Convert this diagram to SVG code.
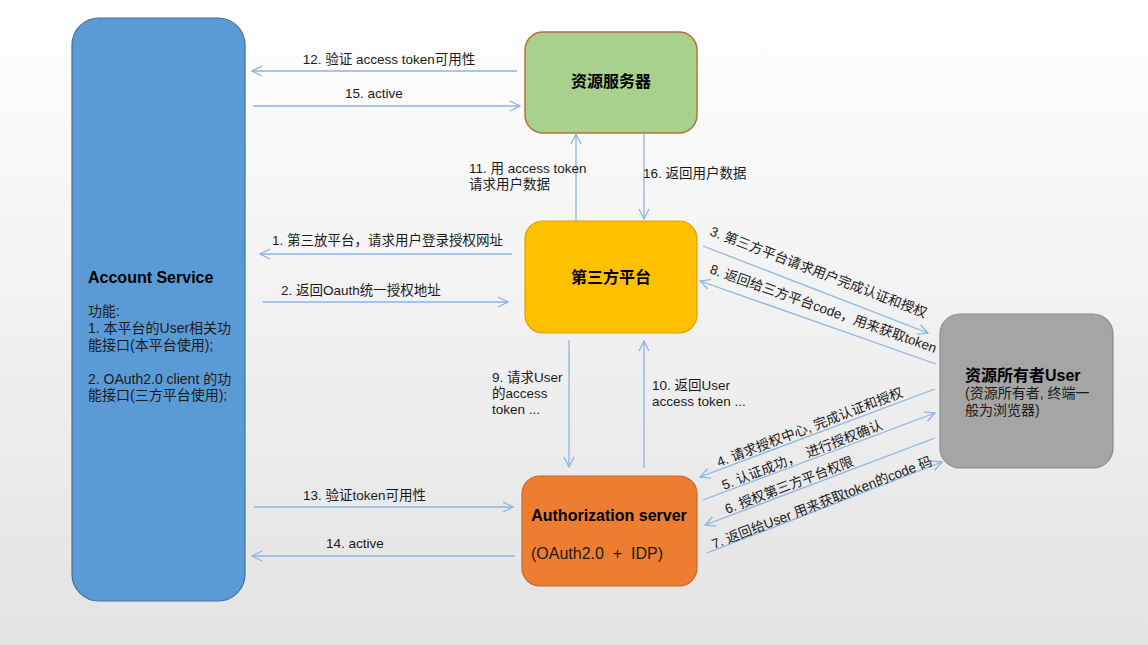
<svg xmlns="http://www.w3.org/2000/svg" width="1148" height="645" viewBox="0 0 1148 645">
<defs>
<linearGradient id="bg" x1="0" y1="0" x2="0" y2="1">
<stop offset="0" stop-color="#ffffff"/>
<stop offset="1" stop-color="#e3e3e3"/>
</linearGradient>
<marker id="arr" viewBox="0 0 12 12" refX="11" refY="6" markerWidth="12" markerHeight="12" markerUnits="userSpaceOnUse" orient="auto">
<path d="M1,1 L11,6 L1,11" fill="none" stroke="#8db4e2" stroke-width="1.3"/>
</marker>
<style>
text{font-family:"Liberation Sans","Noto Sans CJK SC",sans-serif;fill:#1a1a1a;white-space:pre;}
.lbl{font-size:13.5px;}
.title{font-size:16px;font-weight:bold;fill:#000;}
.body{font-size:14px;}
.conn line{stroke:#8db4e2;stroke-width:1.3;fill:none;marker-end:url(#arr);}
</style>
</defs>
<rect x="0" y="0" width="1148" height="645" fill="url(#bg)"/>

<g id="account-service">
<rect x="72" y="18" width="173" height="583" rx="27" fill="#5b9bd5" stroke="#41719c" stroke-width="1.2"/>
<text class="title" x="88" y="283">Account Service</text>
<text class="body" x="88" y="316">功能:</text>
<text class="body" x="88" y="333">1. 本平台的User相关功</text>
<text class="body" x="88" y="350">能接口(本平台使用);</text>
<text class="body" x="88" y="384">2. OAuth2.0 client 的功</text>
<text class="body" x="88" y="400">能接口(三方平台使用);</text>
</g>

<g id="resource-server">
<rect x="525" y="32" width="172" height="101" rx="18" fill="#a9d18e" stroke="#b8703a" stroke-width="1.5"/>
<text class="title" x="611" y="87" text-anchor="middle">资源服务器</text>
</g>

<g id="third-party">
<rect x="525" y="221" width="172" height="112" rx="18" fill="#ffc000" stroke="#d9a300" stroke-width="1.2"/>
<text class="title" x="611" y="283" text-anchor="middle">第三方平台</text>
</g>

<g id="auth-server">
<rect x="522" y="476" width="175" height="110" rx="18" fill="#ed7d31" stroke="#c8692a" stroke-width="1.2"/>
<text class="title" x="609" y="521" text-anchor="middle">Authorization server</text>
<text class="body" x="531" y="559" style="font-size:16px" xml:space="preserve">(OAuth2.0  +  IDP)</text>
</g>

<g id="resource-owner">
<rect x="940" y="314" width="173" height="154" rx="20" fill="#a5a5a5" stroke="#8c8c8c" stroke-width="1.2"/>
<text class="title" x="965" y="381">资源所有者User</text>
<text class="body" x="965" y="398">(资源所有者, 终端一</text>
<text class="body" x="965" y="415">般为浏览器)</text>
</g>

<g id="connectors" class="conn">
<line x1="517" y1="71" x2="252" y2="71"/>
<line x1="253" y1="106" x2="520" y2="106"/>
<line x1="576" y1="221" x2="576" y2="134"/>
<line x1="644" y1="134" x2="644" y2="219"/>
<line x1="512" y1="254" x2="260" y2="254"/>
<line x1="263" y1="302" x2="508" y2="302"/>
<line x1="703" y1="246" x2="928" y2="333"/>
<line x1="936" y1="364" x2="700" y2="281"/>
<line x1="569" y1="340" x2="569" y2="467"/>
<line x1="644" y1="468" x2="644" y2="341"/>
<line x1="935" y1="389" x2="700" y2="477"/>
<line x1="703" y1="500" x2="935" y2="413"/>
<line x1="935" y1="438" x2="705" y2="525"/>
<line x1="707" y1="553" x2="942" y2="462"/>
<line x1="254" y1="507" x2="513" y2="507"/>
<line x1="515" y1="556" x2="252" y2="556"/>
</g>

<g id="labels">
<text class="lbl" x="389" y="64" text-anchor="middle">12. 验证 access token可用性</text>
<text class="lbl" x="374" y="98" text-anchor="middle">15. active</text>
<text class="lbl" x="469" y="173">11. 用 access token</text>
<text class="lbl" x="469" y="189">请求用户数据</text>
<text class="lbl" x="643" y="178">16. 返回用户数据</text>
<text class="lbl" x="272" y="245">1. 第三放平台，请求用户登录授权网址</text>
<text class="lbl" x="281" y="295">2. 返回Oauth统一授权地址</text>
<text class="lbl" x="492" y="382">9. 请求User</text>
<text class="lbl" x="492" y="398">的access</text>
<text class="lbl" x="492" y="414">token ...</text>
<text class="lbl" x="652" y="390">10. 返回User</text>
<text class="lbl" x="652" y="406">access token ...</text>
<text class="lbl" x="303" y="500">13. 验证token可用性</text>
<text class="lbl" x="326" y="548">14. active</text>
<text class="lbl" transform="translate(709,235) rotate(21)">3. 第三方平台请求用户完成认证和授权</text>
<text class="lbl" transform="translate(709,273) rotate(19.5)">8. 返回给三方平台code，用来获取token</text>
<text class="lbl" transform="translate(719,467) rotate(-21)">4. 请求授权中心, 完成认证和授权</text>
<text class="lbl" transform="translate(724,490) rotate(-21)" xml:space="preserve">5. 认证成功，  进行授权确认</text>
<text class="lbl" transform="translate(727,514) rotate(-21)">6. 授权第三方平台权限</text>
<text class="lbl" transform="translate(714,549) rotate(-21)">7. 返回给User 用来获取token的code 码</text>
</g>
</svg>
